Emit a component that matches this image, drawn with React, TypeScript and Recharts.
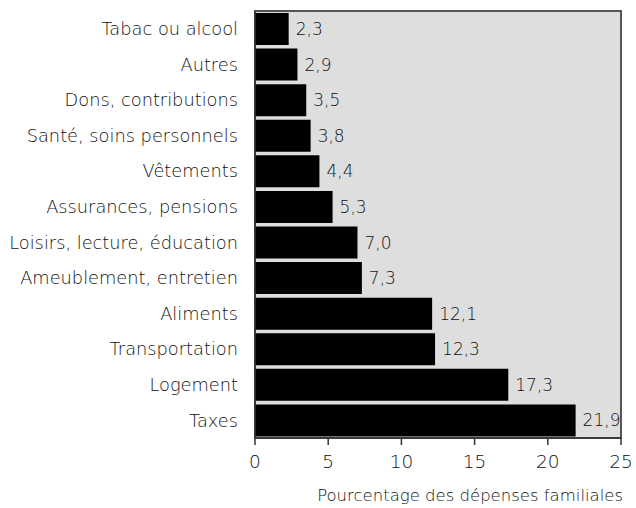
import { BarChart, Bar, XAxis, YAxis, ReferenceArea, LabelList, Label } from 'recharts'

const categories = [
	'Tabac ou alcool',
	'Autres',
	'Dons, contributions',
	'Santé, soins personnels',
	'Vêtements',
	'Assurances, pensions',
	'Loisirs, lecture, éducation',
	'Ameublement, entretien',
	'Aliments',
	'Transportation',
	'Logement',
	'Taxes'
]
const shares = [2.3, 2.9, 3.5, 3.8, 4.4, 5.3, 7.0, 7.3, 12.1, 12.3, 17.3, 21.9]
const xTicks = [0, 5, 10, 15, 20, 25]
const axisTitle = 'Pourcentage des dépenses familiales'

const FONT = "'DejaVu Sans', 'Liberation Sans', sans-serif"
const TEXT = '#111'
const WEIGHT = 200

const data = categories.map((name, i) => ({ name, value: shares[i] }))

const formatValue = (v: number) => v.toFixed(1).replace('.', ',')

function App() {
	return (
		<div style={{ width: 636, height: 508, fontFamily: FONT }}>
			<style>{'body{margin:0}'}</style>
			<BarChart
				width={636}
				height={508}
				data={data}
				layout='vertical'
				margin={{ top: 11, right: 15, left: 0, bottom: 0 }}
				barCategoryGap={2}
			>
				<XAxis
					type='number'
					domain={[0, 25]}
					ticks={xTicks}
					height={70}
					tickSize={7}
					tickMargin={10}
					axisLine={{ stroke: '#333', strokeWidth: 1.5 }}
					tickLine={{ stroke: '#333', strokeWidth: 1.5 }}
					tick={{ fill: TEXT, fontSize: 18.5, fontWeight: WEIGHT, fontFamily: FONT }}
				>
					<Label
						content={() => (
							<text
								x={623}
								y={501}
								textAnchor='end'
								fill={TEXT}
								fontSize={16.5}
								fontWeight={WEIGHT}
								fontFamily={FONT}
							>
								{axisTitle}
							</text>
						)}
					/>
				</XAxis>
				<YAxis
					type='category'
					dataKey='name'
					width={255}
					tickLine={false}
					tickSize={0}
					tickMargin={17}
					axisLine={{ stroke: '#333', strokeWidth: 1.5 }}
					tick={{ fill: TEXT, fontSize: 17.8, fontWeight: WEIGHT, fontFamily: FONT }}
					interval={0}
				/>
				<ReferenceArea
					x1={0}
					x2={25}
					fill='#dedede'
					fillOpacity={1}
					stroke='#555'
					strokeWidth={2}
				/>
				<Bar dataKey='value' fill='#000' isAnimationActive={false}>
					<LabelList
						dataKey='value'
						position='right'
						offset={7}
						formatter={(v: number) => formatValue(v)}
						fill={TEXT}
						fontSize={17}
						fontWeight={WEIGHT}
						fontFamily={FONT}
					/>
				</Bar>
			</BarChart>
		</div>
	)
}

export default App
